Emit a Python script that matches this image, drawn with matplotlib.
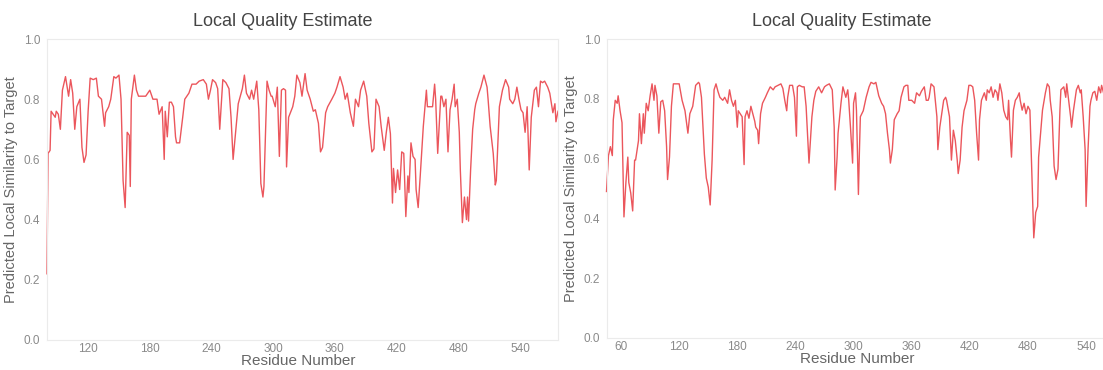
import numpy as np
import matplotlib
matplotlib.use('Agg')
import matplotlib.pyplot as plt

plt.rcParams['font.family'] = ['Liberation Sans', 'DejaVu Sans']

# left model: residue number / predicted local similarity
left_res = [80, 81, 83, 84, 86, 88, 89, 91, 93, 95, 98, 101, 103, 105, 107, 109, 112, 114, 116, 118,
            120, 122, 125, 128, 130, 133, 136, 137, 140, 142, 145, 147, 150, 152, 154, 156, 158, 160, 161, 162,
            165, 167, 169, 173, 176, 180, 183, 187, 189, 192, 194, 195, 197, 199, 201, 203, 205, 206, 209, 212,
            214, 218, 221, 225, 228, 232, 235, 237, 239, 241, 244, 246, 248, 251, 254, 257, 259, 261, 264, 266,
            270, 272, 274, 277, 279, 281, 284, 286, 288, 290, 291, 294, 296, 298, 299, 302, 304, 306, 308, 310,
            312, 313, 315, 319, 321, 323, 326, 328, 331, 333, 336, 339, 341, 344, 346, 348, 351, 353, 357, 360,
            362, 365, 368, 370, 372, 375, 378, 380, 383, 385, 388, 391, 393, 396, 398, 400, 403, 405, 408, 410,
            412, 414, 416, 417, 419, 421, 423, 425, 427, 429, 431, 432, 434, 436, 438, 439, 441, 443, 446, 449,
            450, 452, 455, 457, 458, 460, 463, 464, 466, 468, 470, 472, 474, 476, 477, 479, 481, 482, 484, 486,
            488, 489, 490, 492, 494, 496, 497, 500, 502, 505, 508, 509, 511, 514, 516, 517, 520, 523, 526, 529,
            530, 533, 535, 537, 539, 541, 543, 545, 547, 549, 551, 554, 556, 558, 560, 562, 564, 567, 569, 572,
            574, 575, 577]
left_score = [0.22, 0.62, 0.63, 0.76, 0.75, 0.74, 0.76, 0.75, 0.70, 0.83, 0.875, 0.81, 0.865, 0.82, 0.70, 0.775, 0.80, 0.64, 0.59, 0.615,
              0.76, 0.87, 0.865, 0.87, 0.81, 0.80, 0.71, 0.755, 0.775, 0.80, 0.875, 0.87, 0.88, 0.80, 0.53, 0.44, 0.69, 0.68, 0.51, 0.80,
              0.88, 0.83, 0.81, 0.81, 0.81, 0.83, 0.80, 0.80, 0.75, 0.775, 0.60, 0.76, 0.675, 0.79, 0.79, 0.775, 0.675, 0.655, 0.655, 0.74,
              0.80, 0.82, 0.85, 0.85, 0.86, 0.865, 0.85, 0.80, 0.83, 0.865, 0.855, 0.835, 0.70, 0.865, 0.855, 0.835, 0.74, 0.60, 0.71, 0.785,
              0.835, 0.88, 0.82, 0.80, 0.83, 0.80, 0.86, 0.765, 0.52, 0.475, 0.51, 0.86, 0.83, 0.81, 0.81, 0.775, 0.84, 0.61, 0.83, 0.835,
              0.83, 0.575, 0.74, 0.775, 0.81, 0.88, 0.855, 0.81, 0.885, 0.83, 0.80, 0.76, 0.765, 0.72, 0.625, 0.64, 0.755, 0.775, 0.80, 0.82,
              0.84, 0.875, 0.84, 0.80, 0.82, 0.755, 0.71, 0.80, 0.775, 0.83, 0.86, 0.81, 0.72, 0.625, 0.635, 0.80, 0.775, 0.71, 0.63, 0.69,
              0.74, 0.685, 0.455, 0.57, 0.49, 0.565, 0.50, 0.625, 0.62, 0.41, 0.545, 0.49, 0.655, 0.61, 0.60, 0.50, 0.44, 0.545, 0.71, 0.83,
              0.775, 0.775, 0.775, 0.85, 0.80, 0.62, 0.81, 0.81, 0.775, 0.80, 0.625, 0.765, 0.80, 0.85, 0.775, 0.80, 0.69, 0.565, 0.39, 0.475,
              0.40, 0.475, 0.395, 0.565, 0.70, 0.765, 0.785, 0.82, 0.84, 0.88, 0.84, 0.80, 0.71, 0.62, 0.515, 0.53, 0.775, 0.83, 0.865, 0.84,
              0.80, 0.785, 0.80, 0.84, 0.80, 0.765, 0.755, 0.69, 0.775, 0.565, 0.74, 0.83, 0.84, 0.775, 0.86, 0.855, 0.86, 0.84, 0.82, 0.755,
              0.785, 0.725, 0.76]

# right model
right_res = [45, 47, 49, 51, 52, 54, 56, 57, 59, 61, 63, 65, 67, 68, 70, 72, 74, 75, 78, 79,
             81, 83, 84, 86, 88, 90, 92, 94, 95, 97, 99, 101, 103, 105, 107, 108, 110, 112, 114, 118,
             120, 123, 126, 129, 131, 134, 137, 140, 141, 143, 146, 148, 150, 152, 154, 156, 158, 160, 162, 165,
             167, 170, 172, 174, 176, 178, 180, 181, 183, 185, 187, 188, 190, 192, 194, 196, 198, 199, 201, 202,
             204, 206, 209, 211, 214, 217, 219, 222, 225, 227, 229, 231, 232, 234, 237, 239, 241, 242, 244, 247,
             249, 251, 253, 254, 256, 257, 259, 261, 264, 267, 270, 272, 275, 278, 280, 281, 283, 284, 287, 289,
             292, 294, 295, 297, 299, 300, 302, 303, 305, 306, 307, 310, 313, 316, 318, 321, 323, 326, 329, 331,
             333, 335, 337, 338, 340, 342, 345, 347, 349, 352, 354, 356, 357, 360, 363, 365, 368, 370, 373, 375,
             377, 378, 380, 383, 386, 387, 389, 391, 393, 395, 396, 399, 401, 403, 405, 407, 408, 410, 412, 414,
             417, 419, 421, 423, 425, 427, 429, 430, 432, 435, 437, 438, 440, 442, 444, 446, 448, 449, 451, 453,
             455, 457, 459, 460, 462, 463, 465, 467, 469, 471, 472, 474, 476, 478, 480, 482, 483, 485, 486, 488,
             490, 491, 493, 495, 498, 500, 502, 503, 505, 507, 509, 511, 513, 514, 517, 519, 520, 522, 524, 525,
             527, 530, 532, 534, 535, 537, 539, 540, 542, 544, 545, 547, 549, 551, 553, 555, 556, 558]
right_score = [0.49, 0.61, 0.64, 0.61, 0.73, 0.795, 0.785, 0.81, 0.76, 0.72, 0.405, 0.52, 0.605, 0.52, 0.485, 0.425, 0.595, 0.595, 0.66, 0.75,
               0.65, 0.75, 0.685, 0.785, 0.76, 0.81, 0.85, 0.795, 0.845, 0.81, 0.685, 0.79, 0.795, 0.76, 0.64, 0.53, 0.605, 0.775, 0.85, 0.85,
               0.85, 0.795, 0.76, 0.685, 0.75, 0.775, 0.845, 0.855, 0.85, 0.805, 0.615, 0.535, 0.505, 0.445, 0.595, 0.83, 0.85, 0.825, 0.805, 0.795,
               0.805, 0.785, 0.83, 0.795, 0.775, 0.795, 0.705, 0.76, 0.75, 0.74, 0.58, 0.74, 0.76, 0.735, 0.775, 0.75, 0.725, 0.705, 0.695, 0.65,
               0.75, 0.785, 0.805, 0.82, 0.84, 0.83, 0.84, 0.845, 0.85, 0.835, 0.795, 0.76, 0.805, 0.845, 0.845, 0.805, 0.675, 0.84, 0.845, 0.84,
               0.84, 0.775, 0.65, 0.585, 0.685, 0.74, 0.795, 0.825, 0.84, 0.82, 0.84, 0.845, 0.85, 0.83, 0.705, 0.495, 0.605, 0.685, 0.785, 0.84,
               0.805, 0.83, 0.795, 0.695, 0.585, 0.785, 0.82, 0.76, 0.48, 0.62, 0.74, 0.76, 0.805, 0.84, 0.855, 0.85, 0.855, 0.81, 0.785, 0.775,
               0.75, 0.685, 0.63, 0.585, 0.63, 0.73, 0.75, 0.76, 0.805, 0.84, 0.845, 0.845, 0.795, 0.795, 0.785, 0.82, 0.81, 0.825, 0.84, 0.795,
               0.795, 0.805, 0.85, 0.84, 0.74, 0.63, 0.705, 0.75, 0.795, 0.805, 0.795, 0.74, 0.595, 0.695, 0.66, 0.595, 0.55, 0.595, 0.705, 0.76,
               0.795, 0.845, 0.845, 0.84, 0.795, 0.685, 0.595, 0.73, 0.795, 0.82, 0.795, 0.83, 0.82, 0.84, 0.805, 0.83, 0.82, 0.795, 0.85, 0.82,
               0.762, 0.74, 0.73, 0.795, 0.66, 0.605, 0.762, 0.795, 0.805, 0.82, 0.795, 0.762, 0.785, 0.75, 0.775, 0.762, 0.66, 0.44, 0.335, 0.42,
               0.44, 0.605, 0.685, 0.762, 0.82, 0.85, 0.84, 0.795, 0.74, 0.575, 0.53, 0.565, 0.762, 0.83, 0.84, 0.805, 0.85, 0.795, 0.74, 0.705,
               0.762, 0.83, 0.845, 0.82, 0.83, 0.74, 0.63, 0.44, 0.63, 0.775, 0.795, 0.82, 0.825, 0.795, 0.84, 0.82, 0.845, 0.82]

left_ticks = [120, 180, 240, 300, 360, 420, 480, 540]
right_ticks = [60, 120, 180, 240, 300, 360, 420, 480, 540]
y_ticks = [0.0, 0.2, 0.4, 0.6, 0.8, 1.0]

W, H = 1103, 370
fig = plt.figure(figsize=(W / 100, H / 100), dpi=100)


def px_axes(x0, x1, ytop, ybot):
    return fig.add_axes([x0 / W, (H - ybot) / H, (x1 - x0) / W, (ybot - ytop) / H])


def style(ax, res, score, xlim, ticks, xlab_pos):
    ax.plot(res, score, color='#e8383f', lw=1.0, alpha=0.85, clip_on=False)
    ax.set_xlim(*xlim)
    ax.set_ylim(0, 1)
    ax.set_xticks(ticks)
    ax.set_yticks(y_ticks)
    ax.set_yticklabels(['%.1f' % t for t in y_ticks])
    ax.tick_params(axis='y', length=0, labelsize=8.5, labelcolor='#8a8a8a', pad=5)
    ax.tick_params(axis='x', length=0, labelsize=8.5, labelcolor='#8a8a8a', pad=2)
    for s in ax.spines.values():
        s.set_color('#ebebeb')
        s.set_linewidth(0.8)
    ax.set_xlabel('Residue Number', fontsize=11, color='#666666')
    ax.xaxis.set_label_coords(xlab_pos, -0.046)
    ax.set_ylabel('Predicted Local Similarity to Target', fontsize=10.5, color='#666666', labelpad=4)


ax1 = px_axes(47, 558, 39, 340)
style(ax1, left_res, left_score, (80, 577), left_ticks, 0.491)

ax2 = px_axes(607, 1120, 39, 338)
style(ax2, right_res, right_score, (45.5, 575), right_ticks, 0.487)

fig.text(283 / W, 1 - 22 / H, 'Local Quality Estimate', ha='center', va='center', fontsize=13, color='#444444')
fig.text(842 / W, 1 - 22 / H, 'Local Quality Estimate', ha='center', va='center', fontsize=13, color='#444444')

fig.savefig('out.png', dpi=100, facecolor='white')
